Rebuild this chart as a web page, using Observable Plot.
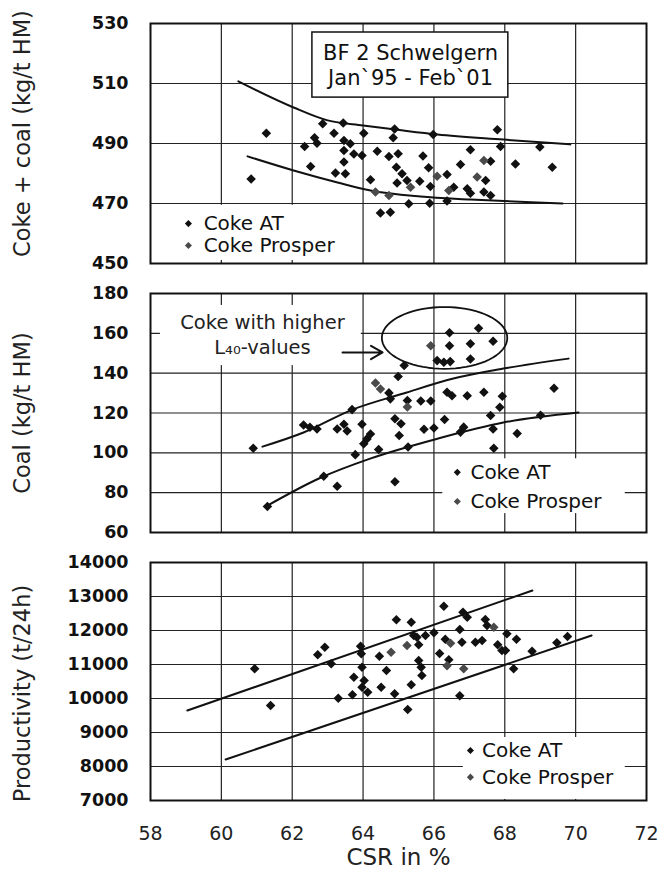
<!DOCTYPE html>
<html>
<head>
<meta charset="utf-8">
<script src="https://cdn.jsdelivr.net/npm/d3@7"></script>
<script src="https://cdn.jsdelivr.net/npm/@observablehq/plot@0.6"></script>
<style>
  html, body { margin: 0; padding: 0; background: #fff; }
  #chart { width: 667px; height: 876px; position: relative; }
  #chart svg { display: block; }
</style>
</head>
<body>
<div id="chart"></div>
<script>
// ---------- axes ----------
const xDomain = [58, 72];
const xTicks = [58, 60, 62, 64, 66, 68, 70, 72];
const xGrid = [60, 62, 64, 66, 68, 70];
const yTicksTop = [450, 470, 490, 510, 530];
const yTicksMid = [60, 80, 100, 120, 140, 160, 180];
const yTicksBottom = [7000, 8000, 9000, 10000, 11000, 12000, 13000, 14000];

const titleTop = "Coke + coal (kg/t HM)";
const titleMid = "Coal (kg/t HM)";
const titleBottom = "Productivity (t/24h)";
const titleX = "CSR in %";
const seriesNames = ["Coke AT", "Coke Prosper"];
const boxText = ["BF 2 Schwelgern", "Jan`95 - Feb`01"];
const noteText = ["Coke with higher", "L₄₀-values"];

// ---------- panel 1: coke + coal rate (kg/t HM) ----------
const topAT = [[61.27,493.4],[60.84,478.2],[62.86,496.6],[63.44,496.8],[63.18,493.4],[62.63,491.9],[62.70,490.1],[62.35,489.0],[63.46,491.0],[63.64,489.9],[64.02,493.4],[63.46,487.7],[63.74,486.5],[63.97,486.0],[63.46,483.8],[62.52,482.3],[63.22,480.2],[63.50,479.9],[64.21,477.9],[64.40,487.4],[64.73,485.7],[64.99,486.6],[64.89,494.8],[64.85,491.9],[64.94,482.1],[65.10,479.9],[65.24,477.7],[64.96,476.8],[65.60,477.4],[65.69,485.8],[65.85,481.9],[65.98,493.0],[65.90,475.7],[66.37,479.7],[66.56,475.4],[66.75,483.0],[67.03,487.9],[67.60,484.1],[66.94,474.9],[67.03,473.4],[67.46,477.7],[67.41,473.8],[67.60,472.7],[67.79,494.6],[67.88,489.0],[68.30,483.2],[68.99,488.8],[69.34,482.1],[65.29,469.9],[65.88,470.1],[66.37,470.8],[64.49,466.8],[64.77,467.1]];
const topProsper = [[64.73,472.7],[65.34,475.4],[66.09,479.1],[66.42,474.3],[67.41,484.3],[67.22,478.8],[64.35,473.8]];
const topUpper = [[60.48,510.7],[62.04,502.0],[63.00,497.7],[64.00,496.0],[65.14,494.3],[66.10,493.0],[67.96,491.3],[69.85,489.7]];
const topLower = [[60.74,485.7],[62.04,481.0],[63.28,477.0],[64.21,474.3],[65.62,472.3],[67.03,471.3],[68.92,470.3],[69.63,470.0]];

// ---------- panel 2: coal rate ----------
const midAT = [[60.90,102.3],[62.32,114.0],[62.50,112.8],[62.70,112.0],[63.27,112.0],[63.46,114.4],[63.55,111.0],[63.69,121.7],[63.97,114.4],[63.78,99.1],[64.11,107.0],[64.21,109.5],[64.02,104.6],[64.44,101.7],[64.73,130.1],[64.77,127.1],[64.99,138.3],[65.16,143.8],[64.90,117.1],[65.07,114.6],[65.02,108.7],[65.27,102.9],[64.90,85.5],[65.25,126.3],[65.63,126.0],[65.91,126.0],[65.72,111.8],[66.00,112.5],[66.30,116.7],[66.37,130.4],[66.51,128.7],[66.94,128.7],[67.41,130.4],[67.93,128.4],[67.86,122.9],[67.60,118.7],[66.84,112.9],[66.75,110.4],[67.67,112.0],[67.69,102.3],[68.35,109.7],[69.01,118.9],[69.39,132.4],[62.89,88.2],[63.27,83.2],[61.30,73.1],[66.44,160.3],[67.26,162.6],[67.67,156.0],[66.44,153.8],[67.03,154.8],[66.09,146.3],[66.28,145.5],[66.46,145.8],[67.03,147.1]];
const midProsper = [[64.35,135.1],[64.49,132.1],[65.25,123.0],[65.91,153.8]];
const midUpper = [[61.16,103.1],[62.32,110.2],[63.70,121.7],[65.14,129.8],[66.55,137.3],[67.96,142.3],[69.80,147.3]];
const midLower = [[61.25,73.0],[62.80,87.5],[64.20,97.1],[66.10,107.1],[67.96,115.2],[70.08,120.2]];

// ---------- panel 3: productivity ----------
const bottomAT = [[60.94,10873],[61.39,9794],[62.72,11285],[62.92,11510],[63.10,11020],[63.30,10010],[63.70,10108],[63.74,10627],[63.93,11539],[63.95,11314],[63.97,10922],[64.03,10529],[63.97,10333],[64.13,10186],[64.46,11245],[64.51,10333],[64.66,10824],[64.89,10137],[64.94,12314],[65.36,12245],[65.52,11804],[65.43,11853],[65.57,11578],[65.26,9676],[65.36,10402],[65.57,11118],[65.64,10922],[65.66,10676],[65.76,11853],[66.00,11931],[66.28,12716],[66.16,11324],[66.32,11745],[66.42,11137],[66.73,10079],[66.82,12539],[66.94,12392],[66.73,12029],[66.79,11657],[67.17,11657],[67.36,11706],[67.45,12324],[67.50,12147],[67.80,11578],[67.92,11412],[68.02,11412],[68.06,11902],[68.33,11745],[68.25,10873],[68.77,11392],[69.47,11637],[69.77,11824]];
const bottomProsper = [[64.79,11363],[65.24,11559],[66.47,11627],[66.37,10961],[66.84,10873],[67.69,12098]];
const bottomUpper = [[59.04,9647],[68.78,13176]];
const bottomLower = [[60.12,8206],[70.45,11853]];

// ---------- annotation anchors (data units) ----------
const titleBox = {x1: 62.57, x2: 68.10, y1: 505.3, y2: 527.0, tx: 65.34, ty: [520.0, 511.7]};
const legendTop = {x1: 58.05, x2: 63.3, y1: 451, y2: 469.4, mx: 59.07, tx: 59.5, ys: [463.3, 456.0]};
const legendMid = {x1: 66.25, x2: 71.4, y1: 69.5, y2: 97.0, mx: 66.66, tx: 67.03, ys: [90.2, 75.6]};
const legendBottom = {x1: 66.83, x2: 71.4, y1: 7030, y2: 8853, mx: 67.03, tx: 67.36, ys: [8471, 7686]};
const noteBox = {x1: 58.28, x2: 63.95, y1: 143.8, y2: 174.0, tx: 61.16, ty: [165.4, 152.9]};
const noteArrow = {x1: 63.42, x2: 64.55, y: 150.4};
const noteEllipse = {cx: 66.3, cy: 157.7, rx: 1.77, ry: 15.5};

// ---------- styling ----------
const INK = "#111";
const AT_COLOR = "#111";
const PROSPER_COLOR = "#4a4a4a";
const FONT = "'DejaVu Sans', 'Liberation Sans', sans-serif";

function legendMarks(L) {
  const rows = seriesNames.map((name, i) => ({name, y: L.ys[i], c: i === 0 ? AT_COLOR : PROSPER_COLOR}));
  return [
    Plot.rect([L], {x1: "x1", x2: "x2", y1: "y1", y2: "y2", fill: "white"}),
    Plot.dot(rows, {x: () => L.mx, y: "y", symbol: d3.symbolDiamond2, r: 3.2, fill: "c", stroke: "none"}),
    Plot.text(rows, {x: () => L.tx, y: "y", text: "name", textAnchor: "start", fontSize: 20, fill: INK})
  ];
}

function panel({height, marginTop, marginBottom, yDomain, yTicks, title, titleDy, marks, showX}) {
  return Plot.plot({
    width: 667,
    height,
    marginLeft: 150,
    marginRight: 21,
    marginTop,
    marginBottom,
    style: {fontFamily: FONT, background: "white", color: INK, overflow: "visible"},
    x: {domain: xDomain, axis: null, label: null},
    y: {domain: yDomain, axis: null, label: null},
    marks: [
      Plot.gridX(xGrid, {stroke: "#222", strokeOpacity: 1, strokeWidth: 1.2}),
      Plot.gridY(yTicks, {stroke: "#222", strokeOpacity: 1, strokeWidth: 1.2}),
      ...marks,
      Plot.axisY(yTicks, {tickSize: 0, tickPadding: 22, fontSize: 17.5, fontWeight: "bold", label: null, fill: INK, tickFormat: d => String(d)}),
      showX ? Plot.axisX(xTicks, {tickSize: 0, tickPadding: 26, fontSize: 19, label: null, fill: "#222", tickFormat: d => String(d)}) : null,
      showX ? Plot.text([titleX], {frameAnchor: "bottom", dy: 64, fontSize: 23, fill: "#222"}) : null,
      Plot.text([title], {frameAnchor: "left", textAnchor: "middle", rotate: -90, dx: -128, dy: titleDy, fontSize: 22.5, fill: "#222"}),
      Plot.frame({stroke: INK, strokeWidth: 2})
    ]
  });
}

const px = d => d[0], py = d => d[1];
const curve = (data) => Plot.line(data, {x: px, y: py, curve: "monotone-x", stroke: INK, strokeWidth: 2});
const dots = (data, color) => Plot.dot(data, {x: px, y: py, symbol: d3.symbolDiamond2, r: 4.3, fill: color, stroke: "none"});

// ellipse outline for the annotation
const ellipsePts = d3.range(0, 73).map(i => {
  const a = (i / 72) * 2 * Math.PI;
  return [noteEllipse.cx + noteEllipse.rx * Math.cos(a), noteEllipse.cy + noteEllipse.ry * Math.sin(a)];
});

const p1 = panel({
  height: 278, marginTop: 23, marginBottom: 15,
  yDomain: [450, 530], yTicks: yTicksTop, title: titleTop, titleDy: -10,
  marks: [
    Plot.rect([titleBox], {x1: "x1", x2: "x2", y1: "y1", y2: "y2", fill: "white", stroke: INK, strokeWidth: 1.5}),
    Plot.text(boxText, {x: () => titleBox.tx, y: (d, i) => titleBox.ty[i], fontSize: 21, fill: INK}),
    ...legendMarks(legendTop),
    curve(topUpper), curve(topLower),
    dots(topAT, AT_COLOR), dots(topProsper, PROSPER_COLOR)
  ]
});

const p2 = panel({
  height: 269, marginTop: 15, marginBottom: 15,
  yDomain: [60, 180], yTicks: yTicksMid, title: titleMid, titleDy: 0,
  marks: [
    Plot.rect([noteBox], {x1: "x1", x2: "x2", y1: "y1", y2: "y2", fill: "white"}),
    Plot.text(noteText, {x: () => noteBox.tx, y: (d, i) => noteBox.ty[i], fontSize: 19.5, fill: "#222"}),
    Plot.arrow([noteArrow], {x1: "x1", x2: "x2", y1: "y", y2: "y", stroke: INK, strokeWidth: 2, headLength: 11}),
    Plot.line(ellipsePts, {x: px, y: py, curve: "linear-closed", stroke: INK, strokeWidth: 1.8}),
    ...legendMarks(legendMid),
    curve(midUpper), curve(midLower),
    dots(midAT, AT_COLOR), dots(midProsper, PROSPER_COLOR)
  ]
});

const p3 = panel({
  height: 329, marginTop: 15, marginBottom: 76,
  yDomain: [7000, 14000], yTicks: yTicksBottom, title: titleBottom, titleDy: 12,
  showX: true,
  marks: [
    ...legendMarks(legendBottom),
    curve(bottomUpper), curve(bottomLower),
    dots(bottomAT, AT_COLOR), dots(bottomProsper, PROSPER_COLOR)
  ]
});

const root = document.getElementById("chart");
root.append(p1, p2, p3);
</script>
</body>
</html>
